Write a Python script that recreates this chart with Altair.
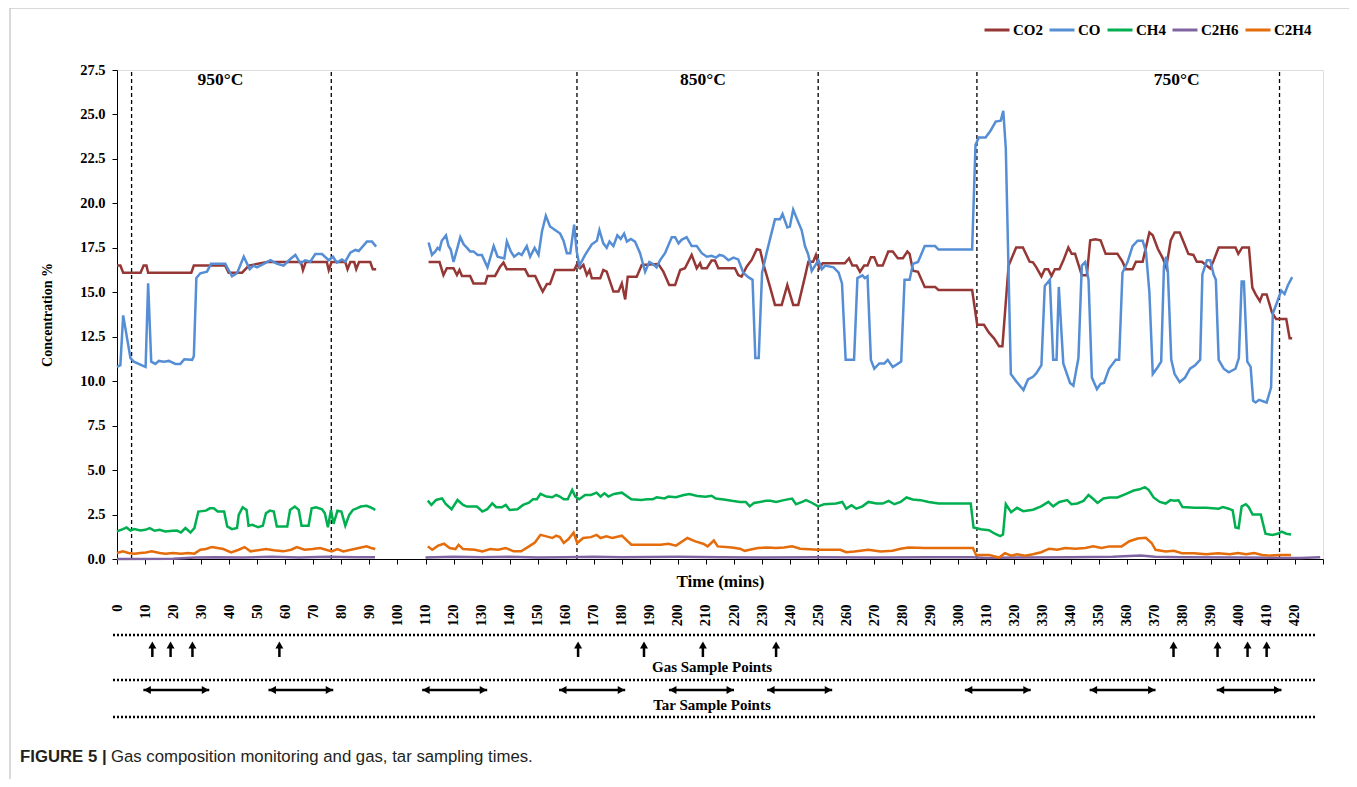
import altair as alt
import pandas as pd

SERIF = "Liberation Serif"
SANS = "Liberation Sans"

SERIES = ["CO2", "CO", "CH4", "C2H6", "C2H4"]
COLORS = ["#953735", "#558ED5", "#00B050", "#8064A2", "#E46C0A"]

# ---- series values: (time in mins, concentration %) ----
CO2_SEG1 = [(0, 16.5), (1.2, 16.5), (2.2, 16.1), (8.4, 16.1), (9.5, 16.5), (10.5, 16.5), (11.1, 16.1),
            (26.5, 16.1), (27.4, 16.5), (38.6, 16.5), (39.8, 16.1), (44.6, 16.1), (47.0, 16.5), (53.5, 16.7),
            (65.6, 16.7), (66.3, 16.25), (67.3, 16.7), (74.8, 16.7), (75.5, 16.25), (76.5, 16.7), (81.4, 16.7),
            (82.2, 16.3), (83.2, 16.7), (84.6, 16.7), (85.3, 16.3), (86.3, 16.7), (90.3, 16.7), (91.2, 16.3),
            (92.4, 16.3)]
CO2_SEG2 = [(111.1, 16.7), (115.0, 16.7), (116.4, 15.97), (117.6, 16.35), (120.0, 16.35), (121.2, 15.97),
            (122.1, 16.25), (123.0, 15.92), (125.9, 15.92), (127.1, 15.5), (131.3, 15.5), (132.1, 15.92),
            (134.8, 15.92), (136.6, 16.44), (137.8, 16.67), (139.0, 16.29), (145.5, 16.29), (146.7, 15.92),
            (149.1, 15.92), (150.9, 15.32), (151.8, 15.04), (153.3, 15.47), (154.4, 15.47), (156.2, 16.25),
            (163.0, 16.25), (163.9, 16.54), (165.1, 16.35), (166.3, 16.54), (167.5, 15.97), (168.5, 16.25),
            (169.3, 15.79), (172.3, 15.79), (173.4, 16.25), (174.6, 16.16), (177.0, 15.04), (178.8, 15.04),
            (180.0, 15.5), (181.2, 14.6), (182.1, 15.88), (185.3, 15.88), (187.1, 16.54), (193.0, 16.59),
            (194.8, 16.16), (196.9, 15.41), (199.0, 15.41), (200.8, 16.25), (202.5, 16.35), (204.9, 17.1),
            (206.7, 16.35), (207.9, 16.63), (208.5, 16.35), (210.3, 16.35), (212.0, 16.78), (213.2, 16.78),
            (214.4, 16.35), (220.3, 16.35), (221.5, 15.97), (222.7, 15.88), (224.5, 16.44), (226.3, 16.82),
            (228.1, 17.42), (229.3, 17.38), (230.4, 16.63), (232.8, 15.32), (234.6, 14.29), (237.0, 14.29),
            (239.0, 15.41), (241.1, 14.29), (242.9, 14.29), (245.3, 15.88), (246.5, 16.72), (248.2, 16.72),
            (249.2, 17.1), (250.4, 16.35), (251.6, 16.63), (259.5, 16.63), (261.0, 16.91), (262.2, 16.5),
            (263.7, 16.5), (264.9, 16.15), (266.4, 16.5), (267.6, 16.5), (268.8, 16.97), (270.0, 16.97),
            (271.2, 16.5), (273.0, 16.5), (275.0, 17.29), (276.6, 17.29), (278.4, 16.91), (280.2, 16.91),
            (281.8, 17.29), (282.6, 17.16), (283.8, 16.21), (285.6, 16.15), (288.0, 15.3), (291.7, 15.3),
            (292.9, 15.13), (304.9, 15.13), (306.7, 13.17), (309.1, 13.17), (310.9, 12.73), (312.7, 12.41),
            (314.5, 11.97), (315.7, 11.97), (317.9, 16.5), (320.6, 17.52), (323.0, 17.52), (325.4, 16.72),
            (326.6, 16.68), (327.8, 16.4), (329.6, 15.89), (330.8, 16.3), (332.0, 16.3), (333.2, 15.92),
            (334.4, 16.3), (336.0, 16.3), (337.4, 16.78), (339.2, 17.52), (340.4, 17.16), (341.6, 17.16),
            (344.0, 15.96), (345.8, 15.96), (347.0, 17.92), (348.8, 17.98), (350.7, 17.92), (352.5, 17.16),
            (356.7, 17.16), (358.5, 16.72), (359.7, 16.3), (362.1, 16.3), (363.3, 16.72), (365.7, 16.72),
            (368.1, 18.36), (369.3, 18.21), (371.1, 17.45), (372.9, 16.91), (374.1, 16.4), (375.7, 17.92),
            (377.1, 18.36), (378.9, 18.36), (380.8, 17.63), (382.0, 17.16), (383.8, 17.1), (385.0, 16.72),
            (386.8, 16.72), (389.8, 16.34), (391.0, 16.78), (392.8, 17.52), (398.8, 17.52), (399.8, 17.16),
            (401.2, 17.52), (403.6, 17.52), (404.8, 15.26), (406.0, 14.88), (407.5, 14.5), (408.4, 14.88),
            (409.9, 14.88), (411.8, 13.87), (413.3, 13.49), (416.9, 13.49), (418.1, 12.41), (419.0, 12.41)]

CO_SEG1 = [(0, 10.8), (1.2, 10.9), (2.2, 13.7), (4.8, 11.3), (6.0, 11.1), (9.5, 10.85), (10.2, 10.8),
           (11.1, 15.5), (12.2, 11.1), (13.7, 10.97), (14.9, 11.14), (16.7, 11.1), (18.5, 11.14), (20.8, 10.97),
           (22.6, 10.97), (24.0, 11.23), (26.8, 11.2), (27.4, 11.4), (28.3, 15.8), (29.7, 16.07), (32.1, 16.16),
           (33.5, 16.6), (38.6, 16.6), (41.0, 15.9), (42.8, 16.07), (45.2, 17.0), (47.3, 16.3), (48.7, 16.5),
           (49.9, 16.4), (52.3, 16.6), (54.7, 16.8), (57.1, 16.6), (59.4, 16.5), (61.8, 16.87), (63.6, 17.1),
           (65.4, 16.63), (67.1, 16.8), (68.9, 16.72), (70.7, 17.15), (73.1, 17.15), (75.5, 16.8), (77.0, 17.0),
           (78.4, 16.67), (80.2, 16.85), (81.4, 16.72), (83.2, 17.23), (85.0, 17.38), (86.2, 17.32),
           (89.1, 17.85), (90.9, 17.85), (92.4, 17.57)]
CO_SEG2 = [(111.1, 17.8), (112.3, 17.1), (113.5, 17.3), (114.3, 17.5), (115.0, 17.4), (115.8, 17.9),
           (117.3, 18.2), (118.2, 17.6), (119.0, 17.4), (120.0, 16.7), (121.2, 17.4), (122.4, 18.1),
           (123.6, 17.7), (124.8, 17.5), (125.9, 17.3), (127.1, 17.3), (128.6, 17.1), (130.1, 17.1),
           (132.1, 16.4), (134.3, 17.6), (135.7, 17.0), (138.1, 16.9), (139.0, 17.85), (140.4, 17.3),
           (141.6, 17.0), (143.2, 17.2), (144.3, 17.1), (146.1, 17.6), (147.3, 17.0), (148.9, 17.5),
           (150.3, 17.1), (151.5, 18.4), (152.9, 19.3), (154.4, 18.7), (156.2, 18.5), (158.0, 18.3),
           (159.2, 17.9), (160.4, 17.2), (161.6, 17.2), (163.0, 18.8), (163.9, 17.3), (164.9, 16.5),
           (166.9, 17.1), (169.3, 17.7), (171.1, 17.9), (172.0, 18.5), (173.4, 17.75), (174.6, 17.5),
           (175.6, 17.85), (177.0, 17.6), (178.4, 18.2), (179.6, 18.0), (180.8, 18.3), (181.8, 17.85),
           (183.2, 18.0), (184.7, 17.85), (186.5, 17.2), (188.3, 16.15), (189.8, 16.7), (191.0, 16.6),
           (192.4, 16.4), (193.6, 16.8), (195.4, 17.2), (197.8, 18.1), (199.0, 18.1), (200.2, 17.75),
           (201.3, 17.95), (203.1, 18.1), (204.9, 17.6), (206.7, 17.6), (208.5, 17.2), (210.3, 17.0),
           (212.0, 17.05), (213.6, 16.95), (214.8, 17.1), (216.2, 17.05), (218.0, 16.8), (219.8, 16.95),
           (221.5, 16.85), (223.3, 16.1), (225.1, 15.85), (226.6, 15.7), (227.6, 11.3), (228.8, 11.3),
           (230.0, 16.1), (231.6, 17.2), (233.0, 18.1), (234.6, 19.1), (236.4, 19.1), (237.3, 19.4),
           (239.0, 18.65), (239.9, 18.7), (241.1, 19.65), (242.5, 19.1), (244.1, 18.5), (245.3, 17.6),
           (246.5, 17.1), (247.7, 16.2), (250.1, 16.8), (251.3, 16.3), (252.5, 16.5), (255.5, 16.4),
           (257.3, 16.1), (258.5, 15.5), (259.8, 11.2), (262.8, 11.2), (264.0, 15.8), (265.8, 15.95),
           (266.6, 15.8), (267.6, 15.9), (268.8, 11.2), (270.0, 10.7), (271.8, 11.0), (273.6, 11.0),
           (274.8, 11.2), (276.6, 10.8), (279.6, 11.1), (280.8, 15.7), (282.6, 15.7), (283.8, 16.6),
           (285.6, 16.7), (288.0, 17.6), (291.7, 17.6), (292.9, 17.4), (304.9, 17.4), (306.1, 23.3),
           (307.3, 23.7), (309.7, 23.7), (311.5, 24.1), (313.3, 24.6), (315.1, 24.65), (316.0, 25.2),
           (316.9, 23.1), (318.7, 10.4), (320.6, 10.0), (323.2, 9.5), (324.8, 10.1), (326.6, 10.25),
           (327.8, 10.45), (329.6, 10.9), (330.8, 15.35), (332.6, 15.7), (333.8, 11.2), (335.0, 11.2),
           (335.8, 15.3), (337.4, 11.0), (339.8, 9.9), (341.0, 9.75), (342.8, 11.3), (344.0, 16.5),
           (345.2, 16.7), (346.4, 15.7), (347.6, 10.2), (349.4, 9.55), (350.7, 9.85), (351.9, 9.9),
           (353.7, 10.7), (356.1, 11.2), (357.3, 11.2), (358.5, 16.1), (360.3, 16.7), (362.1, 17.6),
           (363.9, 17.9), (365.7, 17.9), (366.9, 17.25), (368.1, 15.0), (369.3, 10.4), (371.1, 10.8),
           (372.3, 11.1), (373.3, 16.5), (374.1, 17.0), (374.7, 16.1), (375.9, 11.2), (377.1, 10.4),
           (378.9, 9.95), (380.8, 10.2), (382.6, 10.7), (384.4, 10.9), (386.2, 11.2), (387.0, 16.0),
           (388.6, 16.8), (389.8, 16.8), (391.0, 16.0), (391.8, 15.7), (392.8, 11.2), (394.6, 10.7),
           (396.4, 10.5), (398.8, 10.7), (400.0, 11.3), (401.0, 15.6), (401.8, 15.6), (403.0, 11.1),
           (404.2, 10.8), (405.1, 8.9), (406.0, 8.8), (407.2, 8.95), (409.9, 8.8), (411.5, 9.65),
           (412.1, 13.8), (413.3, 14.3), (415.1, 15.1), (416.3, 14.9), (417.5, 15.4), (419.0, 15.85)]

CH4_SEG1 = [(0, 1.55), (2.1, 1.68), (3.4, 1.77), (4.8, 1.6), (6.2, 1.68), (8.3, 1.6), (10.1, 1.64),
            (11.7, 1.74), (13.4, 1.59), (15.2, 1.64), (17.2, 1.55), (20.0, 1.59), (21.4, 1.6), (22.8, 1.49),
            (24.4, 1.74), (26.2, 1.49), (27.6, 1.74), (29.0, 2.67), (31.7, 2.72), (33.1, 2.85), (34.5, 2.85),
            (35.9, 2.67), (38.2, 2.67), (39.3, 1.83), (41.0, 1.68), (42.8, 1.74), (43.4, 2.48), (44.8, 2.91),
            (46.2, 2.76), (46.9, 1.87), (48.3, 1.92), (50.3, 1.79), (52.0, 1.87), (53.1, 2.57), (54.5, 2.72),
            (55.9, 2.67), (57.0, 1.83), (60.7, 1.83), (61.7, 2.76), (63.4, 2.95), (64.8, 2.76), (65.8, 1.87),
            (68.3, 1.87), (69.4, 2.85), (71.0, 2.91), (73.1, 2.8), (74.1, 2.57), (75.2, 1.79), (76.3, 2.76),
            (77.2, 1.98), (78.6, 2.72), (80.0, 2.67), (81.4, 1.87), (82.8, 2.48), (84.1, 2.76), (85.5, 2.85),
            (86.9, 2.95), (89.0, 2.99), (90.3, 2.91), (92.1, 2.76)]
CH4_SEG2 = [(110.8, 3.28), (112.1, 3.04), (113.8, 3.32), (115.9, 3.41), (117.2, 3.1), (119.3, 2.8),
            (121.4, 3.32), (123.4, 3.04), (124.8, 2.95), (128.3, 2.95), (130.3, 2.67), (132.0, 2.8),
            (133.8, 3.13), (135.2, 2.91), (137.2, 2.91), (138.6, 3.04), (140.0, 2.76), (142.8, 2.8),
            (144.8, 3.04), (146.9, 3.17), (148.3, 3.36), (149.7, 3.36), (151.0, 3.66), (153.1, 3.51),
            (155.2, 3.47), (156.6, 3.6), (157.9, 3.51), (159.3, 3.36), (160.7, 3.36), (162.3, 3.88),
            (163.4, 3.51), (164.8, 3.36), (166.9, 3.6), (169.0, 3.6), (171.0, 3.73), (172.4, 3.51),
            (173.8, 3.69), (175.2, 3.51), (177.2, 3.66), (180.0, 3.73), (183.4, 3.36), (186.9, 3.32),
            (189.0, 3.36), (191.0, 3.36), (192.4, 3.47), (195.2, 3.41), (196.6, 3.51), (199.3, 3.47),
            (202.1, 3.6), (204.1, 3.66), (206.9, 3.54), (209.9, 3.5), (212.0, 3.56), (213.5, 3.4),
            (216.3, 3.35), (219.2, 3.27), (222.1, 3.21), (224.2, 3.21), (225.6, 2.96), (227.1, 3.15),
            (229.2, 3.21), (231.4, 3.27), (233.0, 3.27), (235.0, 3.21), (237.8, 3.31), (240.7, 3.4),
            (242.1, 3.08), (244.3, 3.21), (245.7, 3.31), (247.9, 3.15), (250.0, 2.96), (252.1, 3.08),
            (256.4, 3.12), (258.6, 3.21), (260.0, 2.83), (261.9, 3.02), (263.6, 2.83), (265.8, 2.96),
            (267.9, 3.21), (270.8, 3.12), (273.0, 3.12), (275.1, 3.27), (277.2, 3.08), (279.4, 3.21),
            (281.5, 3.46), (283.7, 3.35), (286.5, 3.31), (289.4, 3.21), (293.0, 3.12), (304.4, 3.12),
            (305.4, 1.77), (308.0, 1.67), (310.9, 1.62), (313.0, 1.42), (314.9, 1.29), (315.9, 1.38),
            (316.9, 3.08), (318.8, 2.63), (320.9, 2.88), (323.1, 2.69), (326.6, 2.77), (329.5, 2.96),
            (332.1, 3.21), (333.8, 2.96), (336.0, 3.21), (338.8, 3.31), (340.3, 3.08), (342.4, 3.12),
            (344.6, 3.27), (346.4, 3.6), (347.9, 3.4), (349.6, 3.15), (351.7, 3.4), (353.9, 3.46),
            (356.7, 3.46), (359.6, 3.65), (362.5, 3.85), (364.6, 3.92), (366.5, 4.04), (367.9, 3.88),
            (369.6, 3.46), (371.8, 3.21), (373.9, 3.12), (375.6, 3.31), (377.1, 3.27), (378.5, 3.3),
            (379.9, 2.92), (384.2, 2.88), (388.5, 2.88), (392.8, 2.83), (394.3, 2.92), (396.4, 2.83),
            (397.8, 2.73), (398.8, 1.77), (399.9, 1.73), (401.0, 2.96), (402.5, 3.08), (403.5, 2.92),
            (404.9, 2.5), (407.8, 2.5), (409.5, 1.42), (412.0, 1.35), (413.8, 1.42), (415.3, 1.54),
            (416.9, 1.42), (418.6, 1.38)]

C2H6_SEG1 = [(0, 0.0), (20, 0.02), (28, 0.08), (35, 0.1), (45, 0.08), (55, 0.12), (65, 0.08), (75, 0.12),
             (85, 0.1), (92, 0.1)]
C2H6_SEG2 = [(110, 0.08), (120, 0.12), (130, 0.1), (140, 0.12), (150, 0.08), (160, 0.1), (170, 0.12),
             (180, 0.1), (200, 0.12), (215, 0.1), (230, 0.08), (250, 0.1), (270, 0.08), (290, 0.1),
             (305, 0.1), (310, 0.05), (320, 0.08), (340, 0.1), (355, 0.12), (365, 0.2), (370, 0.12),
             (380, 0.1), (400, 0.08), (415, 0.06), (422, 0.05), (429, 0.1)]

C2H4_SEG1 = [(0, 0.34), (2.1, 0.43), (4.1, 0.34), (6.2, 0.3), (8.3, 0.34), (10.3, 0.37), (12.4, 0.43),
             (15.2, 0.34), (17.2, 0.3), (20.0, 0.34), (22.8, 0.3), (25.5, 0.34), (27.6, 0.3), (29.7, 0.52),
             (31.7, 0.56), (33.8, 0.67), (35.9, 0.62), (37.9, 0.56), (40.7, 0.37), (43.4, 0.52), (45.5, 0.67),
             (47.6, 0.43), (50.3, 0.49), (53.1, 0.56), (55.9, 0.49), (59.3, 0.43), (62.1, 0.52), (64.1, 0.67),
             (66.9, 0.52), (69.7, 0.56), (72.4, 0.62), (74.5, 0.52), (76.6, 0.43), (78.6, 0.56), (80.7, 0.43),
             (83.4, 0.52), (86.2, 0.62), (89.0, 0.71), (90.6, 0.62), (92.1, 0.56)]
C2H4_SEG2 = [(110.8, 0.71), (112.4, 0.52), (114.5, 0.75), (116.6, 0.86), (118.6, 0.62), (120.7, 0.56),
             (121.8, 0.8), (123.4, 0.56), (127.6, 0.52), (130.3, 0.43), (133.1, 0.56), (135.9, 0.52),
             (138.6, 0.62), (141.4, 0.43), (144.1, 0.43), (146.9, 0.71), (149.0, 0.93), (151.0, 1.36),
             (153.1, 1.27), (155.2, 1.18), (156.6, 1.31), (157.9, 1.23), (159.3, 0.9), (161.0, 1.12),
             (162.8, 1.49), (164.1, 0.9), (166.2, 1.18), (169.0, 1.23), (171.0, 1.36), (172.4, 1.18),
             (174.5, 1.27), (176.6, 1.18), (180.0, 1.31), (183.4, 0.8), (188.3, 0.8), (193.8, 0.8),
             (196.6, 0.86), (199.3, 0.75), (203.4, 1.18), (206.2, 0.99), (209.0, 0.86), (210.6, 0.71),
             (212.8, 1.04), (214.2, 0.71), (219.2, 0.65), (222.1, 0.58), (223.8, 0.46), (225.6, 0.52),
             (228.5, 0.62), (232.1, 0.65), (235.0, 0.62), (237.8, 0.65), (240.7, 0.71), (243.6, 0.58),
             (250.0, 0.52), (257.9, 0.52), (260.0, 0.38), (262.9, 0.42), (267.9, 0.52), (272.2, 0.42),
             (276.5, 0.46), (279.4, 0.58), (282.2, 0.65), (288.0, 0.62), (296.6, 0.62), (305.2, 0.62),
             (306.3, 0.23), (310.9, 0.23), (314.5, 0.08), (316.6, 0.33), (318.8, 0.19), (320.9, 0.27),
             (323.8, 0.19), (326.6, 0.27), (329.5, 0.38), (332.4, 0.58), (335.2, 0.52), (338.1, 0.62),
             (341.7, 0.58), (345.2, 0.62), (348.1, 0.71), (351.0, 0.62), (353.9, 0.71), (358.2, 0.71),
             (361.0, 1.0), (363.9, 1.15), (366.8, 1.19), (368.9, 0.9), (370.3, 0.52), (373.9, 0.42),
             (376.8, 0.46), (379.7, 0.33), (384.0, 0.33), (388.3, 0.27), (392.6, 0.33), (396.8, 0.27),
             (399.7, 0.33), (402.6, 0.27), (405.5, 0.33), (408.3, 0.23), (411.2, 0.19), (414.8, 0.23),
             (418.6, 0.23)]

# ---- annotations ----
DIVIDERS = [5.2, 76.4, 164.0, 250.0, 306.6, 414.5]
TEMP_LABELS = ["950°C", "850°C", "750°C"]
TEMP_T = [36.9, 208.9, 377.8]
GAS_SAMPLE_T = [12.6, 19.1, 26.9, 57.9, 164.4, 187.9, 208.9, 235.0, 376.7, 392.4, 403.1, 409.9]
TAR_START = [9.4, 54.0, 108.8, 157.6, 196.8, 231.8, 302.3, 346.8, 392.1]
TAR_END = [32.9, 77.1, 132.0, 181.2, 220.0, 255.0, 325.8, 370.3, 415.2]
X_TICKS = list(range(0, 431, 10))
Y_TICKS = [0, 2.5, 5, 7.5, 10, 12.5, 15, 17.5, 20, 22.5, 25, 27.5]

rows = []
for name, segs in [("CO2", [CO2_SEG1, CO2_SEG2]), ("CO", [CO_SEG1, CO_SEG2]),
                   ("CH4", [CH4_SEG1, CH4_SEG2]), ("C2H6", [C2H6_SEG1, C2H6_SEG2]),
                   ("C2H4", [C2H4_SEG1, C2H4_SEG2])]:
    for k, seg in enumerate(segs):
        for t, v in seg:
            rows.append({"series": name, "seg": f"{name}-{k}", "t": t, "v": v})
df = pd.DataFrame(rows)

W, H = 1206, 489
X_SCALE = alt.Scale(domain=[0, 430], nice=False, zero=False)
X_AXIS = alt.Axis(values=X_TICKS, labelExpr="datum.value <= 420 ? datum.label : ''",
                  labelAngle=270, labelAlign="right", labelBaseline="middle", labelPadding=40,
                  labelFont=SERIF, labelFontSize=14.5, labelFontWeight="bold", labelColor="black",
                  labelOverlap=False, labelFlush=False, tickSize=5, tickColor="black",
                  domainColor="black", grid=False, title="Time (mins)", titleFont=SERIF,
                  titleFontSize=17, titleFontWeight="bold", titleColor="black", titleY=22,
                  titleBaseline="middle")


def xenc(field):
    return alt.X(f"{field}:Q", scale=X_SCALE, axis=X_AXIS)


one = pd.DataFrame({"k": [0]})

border = alt.Chart(one).mark_rect(fill="white", fillOpacity=0, stroke="#b4b4b4", strokeWidth=1).encode(
    x=alt.value(-107), x2=alt.value(1233), y=alt.value(-62), y2=alt.value(760))

dividers = alt.Chart(pd.DataFrame({"t": DIVIDERS})).mark_rule(
    color="black", strokeDash=[4, 3], strokeWidth=1.3).encode(
    x=xenc("t"), y=alt.value(2), y2=alt.value(H))

lines = alt.Chart(df).mark_line(strokeWidth=2.5).encode(
    x=xenc("t"),
    y=alt.Y("v:Q", scale=alt.Scale(domain=[0, 27.5], nice=False),
            axis=alt.Axis(values=Y_TICKS, format=".1f", labelFont=SERIF, labelFontSize=14.5,
                          labelFontWeight="bold", labelColor="black", labelPadding=7, tickSize=5,
                          tickColor="black", domainColor="black", grid=False,
                          title="Concentration %", titleFont=SERIF, titleFontSize=14,
                          titleFontWeight="bold", titleColor="black", titleX=-70,
                          titleBaseline="middle")),
    color=alt.Color("series:N", sort=SERIES, scale=alt.Scale(domain=SERIES, range=COLORS),
                    legend=alt.Legend(title=None, orient="none", legendX=866, legendY=-54,
                                      direction="horizontal", symbolType="stroke", symbolSize=625,
                                      symbolStrokeWidth=3, labelFont=SERIF, labelFontSize=15,
                                      labelFontWeight="bold", labelColor="black", columnPadding=0,
                                      labelOffset=2)),
    detail="seg:N",
    order=alt.Order("t:Q"),
)

temps = alt.Chart(pd.DataFrame({"t": TEMP_T, "label": TEMP_LABELS})).mark_text(
    font=SERIF, fontSize=17.5, fontWeight="bold", color="black", baseline="middle").encode(
    x=xenc("t"), y=alt.value(10), text="label:N")

gas = pd.DataFrame({"t": GAS_SAMPLE_T})
gas_shaft = alt.Chart(gas).mark_rule(color="black", strokeWidth=2.5).encode(
    x=xenc("t"), y=alt.value(577), y2=alt.value(587))
gas_head = alt.Chart(gas).mark_point(shape="triangle-up", size=64, filled=True, color="black",
                                     opacity=1).encode(x=xenc("t"), y=alt.value(575))

tar = pd.DataFrame({"t": TAR_START, "t2": TAR_END})
tar_shaft = alt.Chart(tar).mark_rule(color="black", strokeWidth=2.5).encode(
    x=xenc("t"), x2="t2:Q", y=alt.value(620))
tar_left = alt.Chart(tar).mark_point(shape="triangle-left", size=64, filled=True, color="black",
                                     opacity=1, xOffset=4).encode(x=xenc("t"), y=alt.value(620))
tar_right = alt.Chart(tar).mark_point(shape="triangle-right", size=64, filled=True, color="black",
                                      opacity=1, xOffset=-4).encode(x=xenc("t2"), y=alt.value(620))

dotted = [alt.Chart(one).mark_rule(color="black", strokeDash=[2, 2], strokeWidth=2.5).encode(
    x=alt.value(-4), x2=alt.value(1199), y=alt.value(yp)) for yp in (565, 610, 647)]

strip_text = [alt.Chart(one).mark_text(font=SERIF, fontSize=15, fontWeight="bold", color="black",
                                       baseline="middle").encode(
    x=alt.value(595), y=alt.value(yp), text=alt.value(txt))
    for txt, yp in (("Gas Sample Points", 597), ("Tar Sample Points", 635))]

cap_bold = alt.Chart(one).mark_text(font=SANS, fontSize=16.75, fontWeight="bold", color="#231f20",
                                    align="left", baseline="middle").encode(
    x=alt.value(-97), y=alt.value(687), text=alt.value("FIGURE 5 |"))
cap_text = alt.Chart(one).mark_text(font=SANS, fontSize=16.75, color="#231f20", align="left",
                                    baseline="middle").encode(
    x=alt.value(-6), y=alt.value(687),
    text=alt.value("Gas composition monitoring and gas, tar sampling times."))

chart = alt.layer(
    border, dividers, lines, temps, gas_shaft, gas_head, tar_shaft, tar_left, tar_right,
    *dotted, *strip_text, cap_bold, cap_text
).properties(
    width=W, height=H,
    autosize=alt.AutoSizeParams(type="none"),
    padding={"left": 109, "top": 62, "right": 26, "bottom": 220},
).configure_view(stroke=None).configure(font=SERIF)

chart.save("out.html", embed_options={"renderer": "svg", "actions": False})
